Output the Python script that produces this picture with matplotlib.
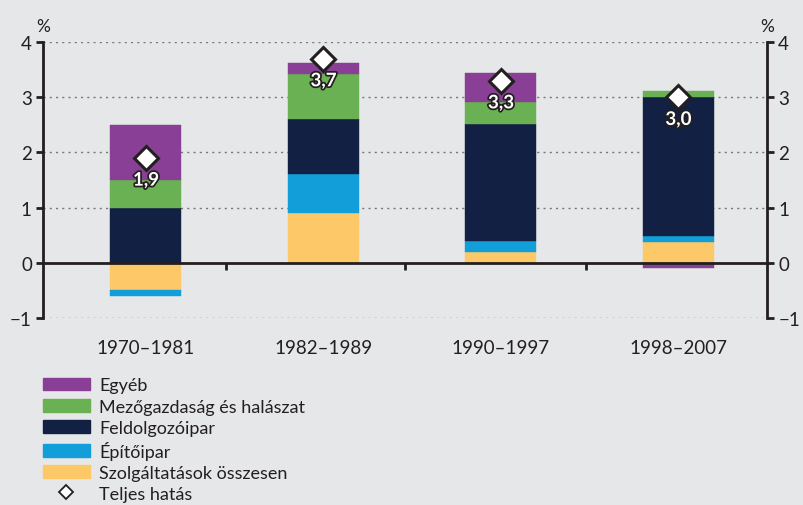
import numpy as np
import matplotlib
matplotlib.use("Agg")
import matplotlib.pyplot as plt
import matplotlib.patheffects as pe
from matplotlib.patches import Patch
from matplotlib.lines import Line2D

plt.rcParams['font.family'] = ['Lato', 'DejaVu Sans']

# data
periods = ["1970–1981", "1982–1989", "1990–1997", "1998–2007"]
szolg = [-0.5, 0.9, 0.2, 0.38]
epito = [-0.1, 0.7, 0.19, 0.11]
feldolg = [1.0, 1.0, 2.12, 2.52]
mezo = [0.5, 0.82, 0.41, 0.11]
egyeb = [1.0, 0.2, 0.51, -0.1]
total = [1.9, 3.7, 3.3, 3.0]
total_labels = ["1,9", "3,7", "3,3", "3,0"]
yticks = [-1, 0, 1, 2, 3, 4]
yticklabels = ["−1", "0", "1", "2", "3", "4"]

names = ["Szolgáltatások összesen", "Építőipar", "Feldolgozóipar",
         "Mezőgazdaság és halászat", "Egyéb"]
colors = ["#FDC968", "#129FD9", "#122143", "#6AB153", "#8A3F96"]
series = [szolg, epito, feldolg, mezo, egyeb]

bg = "#E6E7E8"
ink = "#231F20"
fig = plt.figure(figsize=(8.04, 5.06), dpi=100, facecolor=bg)
ax = fig.add_axes([0.0535, 0.3696, 0.9005, 0.5454], facecolor=bg)

x = np.arange(len(periods))
pos_bottom = np.zeros(len(periods))
neg_bottom = np.zeros(len(periods))
for vals, c in zip(series, colors):
    vals = np.array(vals)
    bottom = np.where(vals >= 0, pos_bottom, neg_bottom)
    ax.bar(x, vals, 0.4, bottom=bottom, color=c, edgecolor=c, linewidth=0.3, zorder=2)
    pos_bottom += np.where(vals >= 0, vals, 0)
    neg_bottom += np.where(vals < 0, vals, 0)

ax.plot(x, total, linestyle="none", marker="D", markersize=12,
        markerfacecolor="white", markeredgecolor=ink, markeredgewidth=2.2, zorder=4)
for xi, t, lab in zip(x, total, total_labels):
    ax.annotate(lab, (xi, t), xytext=(0, -16), textcoords="offset points",
                ha="center", va="center", fontsize=13.5, color="white", fontweight="bold",
                path_effects=[pe.withStroke(linewidth=2.5, foreground=ink)], zorder=5)

ax.set_ylim(-1, 4)
ax.set_xlim(-0.58, 3.5)
ax.set_yticks(yticks)
ax.set_yticklabels(yticklabels)
for yv in [-1, 1, 2, 3, 4]:
    ax.axhline(yv, color="#777777", linestyle=(0, (1.5, 3)), linewidth=1, zorder=1)

ax.spines['top'].set_visible(False)
for s in ['left', 'right']:
    ax.spines[s].set_linewidth(2)
    ax.spines[s].set_color(ink)
ax.spines['bottom'].set_position(('data', 0))
ax.spines['bottom'].set_linewidth(2)
ax.spines['bottom'].set_color(ink)
ax.spines['bottom'].set_zorder(3)

ax.tick_params(axis='y', which='both', left=True, right=True, labelleft=True, labelright=True,
               direction='out', length=5, width=2, color=ink,
               labelsize=13.5, labelcolor=ink, pad=3)
ax.set_xticks(x)
ax.set_xticklabels(periods)
ax.tick_params(axis='x', which='major', length=0, pad=55, labelsize=13.5, labelcolor=ink)
ax.set_xticks([0.45, 1.46, 2.48], minor=True)
ax.tick_params(axis='x', which='minor', length=5, width=2, direction='out', color=ink)

ax.text(0, 1.03, "%", transform=ax.transAxes, ha="center", va="bottom", fontsize=12.5, color=ink)
ax.text(1, 1.03, "%", transform=ax.transAxes, ha="center", va="bottom", fontsize=12.5, color=ink)

handles = [Patch(facecolor=c, edgecolor=c) for c in colors][::-1]
labels = names[::-1]
handles.append(Line2D([], [], linestyle="none", marker="D", markersize=7,
                      markerfacecolor="white", markeredgecolor=ink, markeredgewidth=1.3))
labels.append("Teljes hatás")
fig.legend(handles, labels, loc="upper left", bbox_to_anchor=(0.053, 0.252),
           frameon=False, fontsize=13, handlelength=2.6, handleheight=0.7,
           labelspacing=0.28, handletextpad=0.55, borderpad=0, borderaxespad=0,
           labelcolor=ink)

fig.savefig("out.png", dpi=100, facecolor=bg)
